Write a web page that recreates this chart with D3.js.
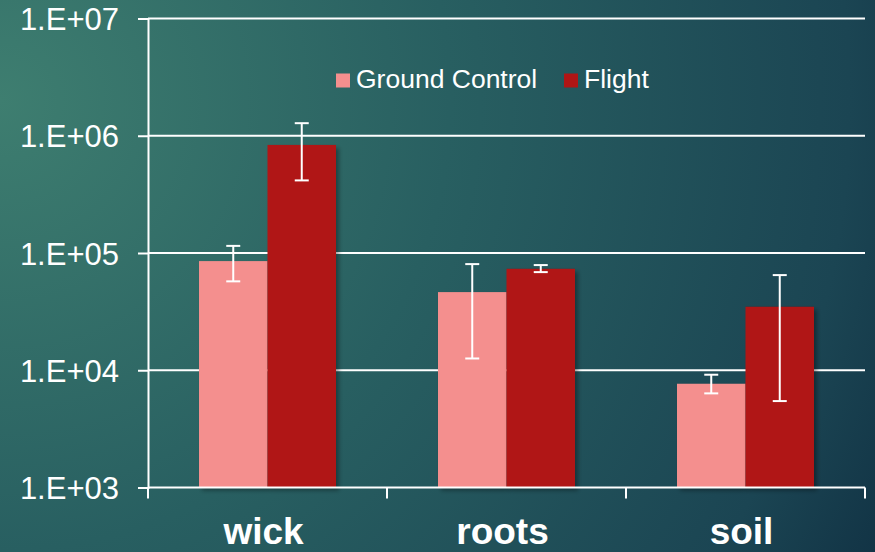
<!DOCTYPE html>
<html>
<head>
<meta charset="utf-8">
<script src="https://cdn.jsdelivr.net/npm/d3@7"></script>
<style>
  html, body { margin: 0; padding: 0; background: #1b4553; }
  svg { display: block; }
</style>
</head>
<body>
<svg id="chart" width="875" height="552"></svg>
<script>
// Sample groups and series
const categories = ["wick", "roots", "soil"];
const seriesNames = ["Ground Control", "Flight"];
const groundControl = [85300, 46400, 7670];
const groundControlLow = [57300, 12600, 6350];
const groundControlHigh = [115000, 80400, 9160];
const flight = [835000, 73300, 34800];
const flightLow = [416000, 68700, 5460];
const flightHigh = [1280000, 78900, 64800];
const yTicks = [1e3, 1e4, 1e5, 1e6, 1e7];
const yTickLabels = ["1.E+03", "1.E+04", "1.E+05", "1.E+06", "1.E+07"];
const colors = ["#f48f8e", "#b01515"];

(function () {
const series = [
  { name: seriesNames[0], values: groundControl, low: groundControlLow, high: groundControlHigh, color: colors[0] },
  { name: seriesNames[1], values: flight, low: flightLow, high: flightHigh, color: colors[1] }
];

const svg = d3.select("#chart");
const W = 875, H = 552;
const plotLeft = 148, plotRight = 865, plotTop = 18.5, plotBottom = 487.5;

// Background
const defs = svg.append("defs");
const bg = defs.append("radialGradient")
  .attr("id", "bg").attr("gradientUnits", "userSpaceOnUse")
  .attr("cx", 0).attr("cy", 100).attr("r", 1000);
[[0, "#3e7e70"], [0.45, "#285f61"], [0.85, "#1b4553"], [1, "#113244"]]
  .forEach(([o, c]) => bg.append("stop").attr("offset", o).attr("stop-color", c));
const shadow = defs.append("filter").attr("id", "shadow")
  .attr("x", "-20%").attr("y", "-20%").attr("width", "140%").attr("height", "140%");
shadow.append("feDropShadow").attr("dx", 3).attr("dy", 3)
  .attr("stdDeviation", 2).attr("flood-color", "#000").attr("flood-opacity", 0.35);

svg.append("rect").attr("width", W).attr("height", H).attr("fill", "url(#bg)");

// Scales
const x0 = d3.scaleBand().domain(categories).range([plotLeft, plotRight]).paddingInner(0).paddingOuter(0);
const x1 = d3.scaleBand().domain(seriesNames).range([51, x0.bandwidth() - 51]).padding(0);
const y = d3.scaleLog().domain([1e3, 1e7]).range([plotBottom, plotTop]);

// Gridlines
svg.append("g")
  .selectAll("line")
  .data(yTicks.slice(1))
  .join("line")
  .attr("x1", plotLeft).attr("x2", plotRight)
  .attr("y1", d => y(d)).attr("y2", d => y(d))
  .attr("stroke", "#ffffff").attr("stroke-width", 2);

// Bars
const groups = svg.append("g")
  .selectAll("g")
  .data(categories)
  .join("g")
  .attr("transform", d => `translate(${x0(d)},0)`);

series.forEach(s => {
  groups.append("rect")
    .attr("x", x1(s.name))
    .attr("width", x1.bandwidth())
    .attr("y", (d, i) => y(s.values[i]))
    .attr("height", (d, i) => plotBottom - y(s.values[i]))
    .attr("fill", s.color)
    .attr("filter", "url(#shadow)");
});

// Error bars
series.forEach(s => {
  const eb = groups.append("g")
    .attr("stroke", "#ffffff").attr("stroke-width", 2);
  const cx = x1(s.name) + x1.bandwidth() / 2;
  eb.append("line")
    .attr("x1", cx).attr("x2", cx)
    .attr("y1", (d, i) => y(s.low[i])).attr("y2", (d, i) => y(s.high[i]));
  eb.append("line")
    .attr("x1", cx - 7).attr("x2", cx + 7)
    .attr("y1", (d, i) => y(s.high[i])).attr("y2", (d, i) => y(s.high[i]));
  eb.append("line")
    .attr("x1", cx - 7).attr("x2", cx + 7)
    .attr("y1", (d, i) => y(s.low[i])).attr("y2", (d, i) => y(s.low[i]));
});

// Y axis
const yAxis = d3.axisLeft(y)
  .tickValues(yTicks)
  .tickFormat((d, i) => yTickLabels[i])
  .tickSize(10).tickPadding(19);
const ya = svg.append("g").attr("transform", `translate(${plotLeft},0)`).call(yAxis);
ya.select(".domain").attr("stroke", "#ffffff").attr("stroke-width", 2);
ya.selectAll(".tick line").attr("stroke", "#ffffff").attr("stroke-width", 2);
ya.selectAll(".tick text")
  .attr("fill", "#ffffff")
  .attr("font-family", "Liberation Sans, Arial, sans-serif")
  .attr("font-size", 31)
  .attr("dy", "0.36em");

// X axis
const xa = svg.append("g").attr("transform", `translate(0,${plotBottom})`);
xa.append("line").attr("x1", plotLeft).attr("x2", plotRight).attr("y1", 0).attr("y2", 0)
  .attr("stroke", "#ffffff").attr("stroke-width", 2);
const xTicks = categories.map(c => x0(c)).concat([x0(categories[categories.length - 1]) + x0.bandwidth()]);
xa.selectAll("line.tk").data(xTicks).join("line").attr("class", "tk")
  .attr("x1", d => d).attr("x2", d => d).attr("y1", 0).attr("y2", 11)
  .attr("stroke", "#ffffff").attr("stroke-width", 2);
xa.selectAll("text").data(categories).join("text")
  .attr("x", d => x0(d) + x0.bandwidth() / 2 - 4)
  .attr("y", 56)
  .attr("text-anchor", "middle")
  .attr("fill", "#ffffff")
  .attr("font-family", "Liberation Sans, Arial, sans-serif")
  .attr("font-weight", "bold")
  .attr("font-size", 37)
  .text(d => d);

// Legend
const legendItems = [
  { name: seriesNames[0], color: colors[0], x: 336 },
  { name: seriesNames[1], color: colors[1], x: 564 }
];
const lg = svg.append("g");
legendItems.forEach(it => {
  lg.append("rect").attr("x", it.x).attr("y", 73.5).attr("width", 14).attr("height", 14).attr("fill", it.color);
  lg.append("text").attr("x", it.x + 20).attr("y", 88)
    .attr("fill", "#ffffff")
    .attr("font-family", "Liberation Sans, Arial, sans-serif")
    .attr("font-size", 26.5)
    .text(it.name);
});
})();
</script>
</body>
</html>
